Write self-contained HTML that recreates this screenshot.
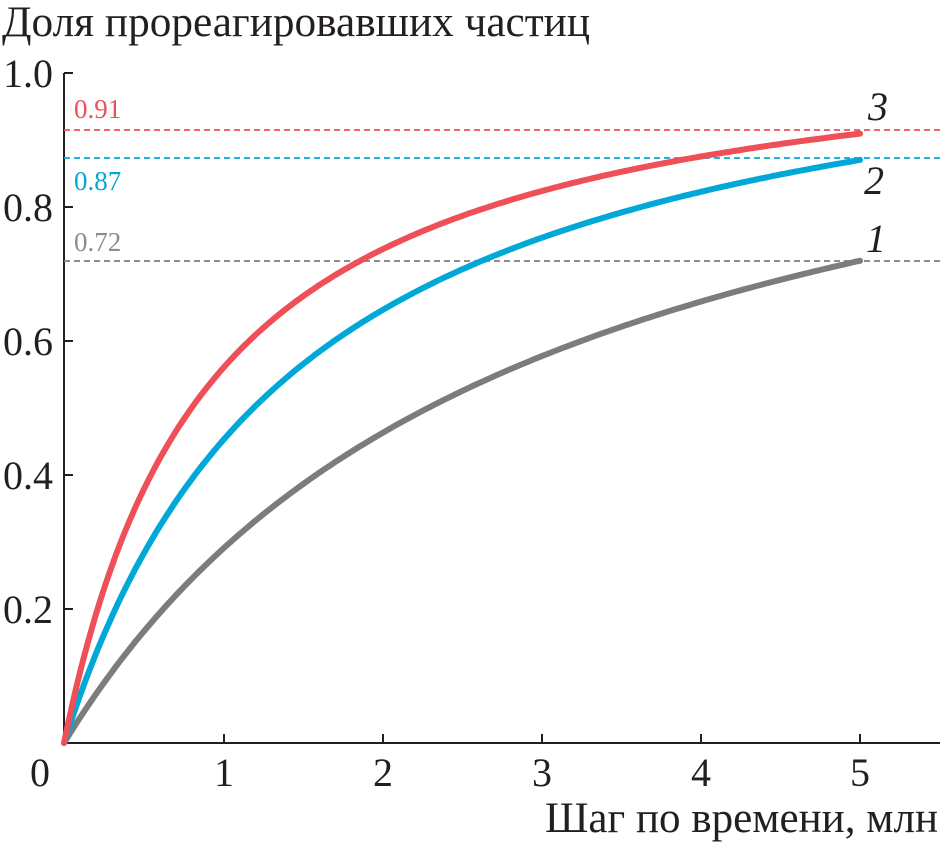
<!DOCTYPE html>
<html><head><meta charset="utf-8"><style>
html,body{margin:0;padding:0;background:#fff;}
svg{display:block;}
text{font-family:"Liberation Serif","DejaVu Serif",serif;}
</style></head><body>
<svg id="s" width="941" height="843" viewBox="0 0 941 843" xmlns="http://www.w3.org/2000/svg">
<text x="2" y="36" font-size="43" fill="#231f20" textLength="588" lengthAdjust="spacingAndGlyphs">Доля прореагировавших частиц</text>
<g stroke="#231f20" stroke-width="2" fill="none">
<line x1="64" y1="73" x2="64" y2="744"/>
<line x1="63" y1="743" x2="940" y2="743"/>
<line x1="64" y1="73" x2="73" y2="73"/>
<line x1="64" y1="207" x2="73" y2="207"/>
<line x1="64" y1="341" x2="73" y2="341"/>
<line x1="64" y1="475" x2="73" y2="475"/>
<line x1="64" y1="609" x2="73" y2="609"/>
<line x1="224" y1="743" x2="224" y2="734"/>
<line x1="383" y1="743" x2="383" y2="734"/>
<line x1="542" y1="743" x2="542" y2="734"/>
<line x1="701" y1="743" x2="701" y2="734"/>
<line x1="860" y1="743" x2="860" y2="734"/>
</g>
<g font-size="40" fill="#231f20" text-anchor="end">
<text x="53" y="87">1.0</text><text x="53" y="221">0.8</text><text x="53" y="355">0.6</text>
<text x="53" y="489">0.4</text><text x="53" y="623">0.2</text>
</g>
<g font-size="40" fill="#231f20" text-anchor="middle">
<text x="40" y="786">0</text><text x="224" y="786">1</text><text x="383" y="786">2</text>
<text x="542" y="786">3</text><text x="701" y="786">4</text><text x="860" y="786">5</text>
</g>
<text x="938" y="832" font-size="43" fill="#231f20" text-anchor="end" textLength="393" lengthAdjust="spacingAndGlyphs">Шаг по времени, млн</text>
<g stroke-width="1.8" stroke-dasharray="6,4">
<line x1="64" y1="130" x2="940" y2="130" stroke="#ef4f57"/>
<line x1="64" y1="158" x2="940" y2="158" stroke="#00a8d8"/>
<line x1="64" y1="261" x2="940" y2="261" stroke="#7a7d80"/>
</g>
<text x="74" y="118" font-size="27" fill="#ef4f57">0.91</text>
<text x="74" y="190" font-size="27" fill="#00a8d8">0.87</text>
<text x="74" y="251" font-size="27" fill="#8a8c8e">0.72</text>
<g id="curves" fill="none" stroke-width="6" stroke-linecap="round"></g>
<g font-size="40" font-style="italic" fill="#231f20">
<text x="868" y="120">3</text><text x="864" y="194">2</text><text x="866" y="252">1</text>
</g>
</svg>
<script>
var g=document.getElementById('curves');
function c(a,b,col){var d='';for(var i=0;i<=200;i++){var t=5*i/200;var v=a*t/(b+t);var x=64+t*159.2,y=743-v*670;d+=(i?'L':'M')+x.toFixed(1)+' '+y.toFixed(1);}
var p=document.createElementNS('http://www.w3.org/2000/svg','path');p.setAttribute('d',d);p.setAttribute('stroke',col);g.appendChild(p);}
c(1.143,2.94,'#7a7d80');c(1.132,1.504,'#00a8d8');c(1.078,0.926,'#ef4f57');
</script>
</body></html>
